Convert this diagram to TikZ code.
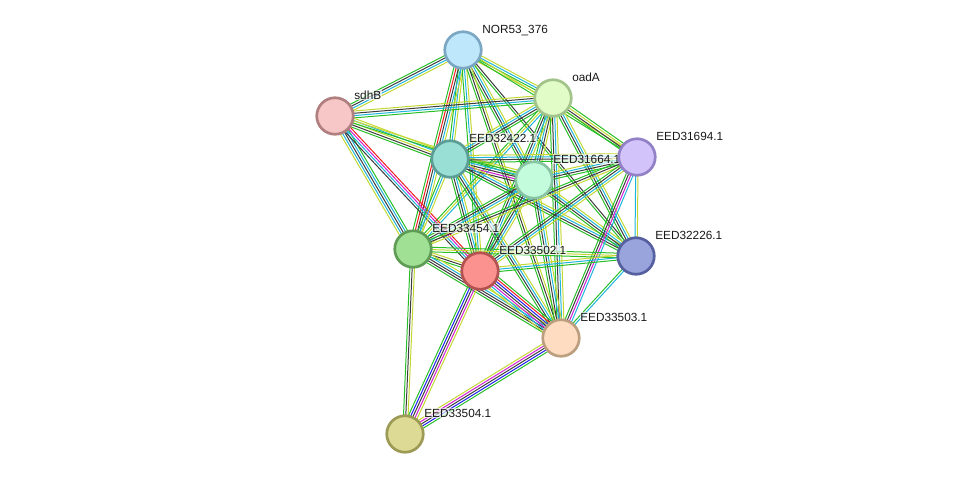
\documentclass[tikz,border=0pt]{standalone}
\usepackage{fontspec}
\setmainfont{Liberation Sans}
\usetikzlibrary{calc}
\pgfdeclarelayer{edges}
\pgfdeclarelayer{labels}
\pgfsetlayers{edges,labels,main}
\definecolor{grn}{RGB}{40,190,40}
\definecolor{ylw}{RGB}{195,215,50}
\definecolor{blk}{RGB}{60,60,60}
\definecolor{cyn}{RGB}{30,180,220}
\definecolor{mag}{RGB}{210,30,210}
\definecolor{rd}{RGB}{240,30,30}
\definecolor{blu}{RGB}{30,30,240}
\definecolor{fN}{HTML}{BFE7FB}\definecolor{bN}{HTML}{7BA7C3}
\definecolor{fO}{HTML}{E1FCC7}\definecolor{bO}{HTML}{A2C48A}
\definecolor{fS}{HTML}{F7C7C8}\definecolor{bS}{HTML}{B07F80}
\definecolor{fA}{HTML}{9ADFD5}\definecolor{bA}{HTML}{5C9E96}
\definecolor{fB}{HTML}{C2FCDD}\definecolor{bB}{HTML}{86C4A2}
\definecolor{fC}{HTML}{D2C3FB}\definecolor{bC}{HTML}{9281C6}
\definecolor{fD}{HTML}{9FE094}\definecolor{bD}{HTML}{5F9C56}
\definecolor{fE}{HTML}{FC9290}\definecolor{bE}{HTML}{B45252}
\definecolor{fF}{HTML}{99A3DC}\definecolor{bF}{HTML}{56609F}
\definecolor{fG}{HTML}{FEDCC1}\definecolor{bG}{HTML}{BC9F7F}
\definecolor{fH}{HTML}{DCDA95}\definecolor{bH}{HTML}{9D9A55}
\newcommand\strEdge[3]{%
  \gdef\ecount{0}%
  \foreach \c in {#3}{\pgfmathtruncatemacro\tmp{\ecount+1}\global\let\ecount\tmp}%
  \foreach \c [count=\i] in {#3}{%
    \pgfmathsetmacro\off{(\i-1-(\ecount-1)/2)*2.3}%
    \draw[\c] ($(#1)!\off pt!90:(#2)$) -- ($(#2)!\off pt!-90:(#1)$);
  }%
}
\newcommand\prot[3]{%
  \node[prot, fill=f#1, draw=b#1] (#1) at (#2) {};
  \begin{pgfonlayer}{labels}
    \node[lbl] (l#1) at ($(#2)+(18,-17)$) {#3};
  \end{pgfonlayer}
}
\tikzset{
  prot/.style={circle, minimum size=36.5pt, inner sep=0pt, line width=2.7pt},
  lbl/.style={anchor=base west, inner sep=0.8pt, fill=white, fill opacity=0.65, text opacity=1,
    text=black!90, font=\fontsize{11.8}{14}\selectfont},
  every path/.style={line width=1pt}
}
\begin{document}
\begin{tikzpicture}[x=1pt, y=-1pt]
\useasboundingbox (0,0) rectangle (976,480);
\prot{N}{463,50}{NOR53\_376}
\prot{O}{553,98}{oadA}
\prot{S}{335,116}{sdhB}
\prot{A}{450,159}{EED32422.1}
\prot{B}{534,180}{EED31664.1}
\prot{C}{637,157}{EED31694.1}
\prot{D}{413,249}{EED33454.1}
\prot{E}{480,271}{EED33502.1}
\prot{F}{636,256}{EED32226.1}
\prot{G}{561,338}{EED33503.1}
\prot{H}{405,434}{EED33504.1}
\begin{pgfonlayer}{edges}
\strEdge{N}{S}{grn,blk,cyn,ylw}
\strEdge{N}{O}{ylw,grn,cyn,ylw}
\strEdge{N}{A}{grn,cyn,ylw}
\strEdge{N}{D}{grn,rd,blk,cyn,ylw}
\strEdge{N}{E}{grn,cyn,ylw}
\strEdge{N}{B}{grn,blk,cyn,ylw}
\strEdge{N}{C}{grn,ylw}
\strEdge{N}{F}{grn,blk}
\strEdge{N}{G}{grn,blk,ylw}
\strEdge{O}{S}{ylw,blk,cyn,grn}
\strEdge{O}{A}{ylw,cyn,blk,grn}
\strEdge{O}{B}{grn,cyn,blk,ylw}
\strEdge{O}{C}{grn,blk,ylw,grn}
\strEdge{O}{D}{grn,ylw,cyn}
\strEdge{O}{E}{grn,blk,cyn,ylw}
\strEdge{O}{F}{grn,blk,cyn,ylw}
\strEdge{O}{G}{grn,blk,cyn,ylw}
\strEdge{S}{A}{grn,blk,ylw,cyn,ylw}
\strEdge{S}{B}{grn,ylw}
\strEdge{S}{D}{ylw,cyn,blk,cyn,grn}
\strEdge{S}{E}{blk,cyn,mag,rd}
\strEdge{A}{B}{blk,mag,blk,cyn,grn,ylw}
\strEdge{A}{C}{grn,blk,cyn,ylw}
\strEdge{A}{D}{grn,cyn,ylw}
\strEdge{A}{E}{grn,blk,cyn,ylw}
\strEdge{A}{F}{grn,blk,cyn,ylw}
\strEdge{A}{G}{grn,blk,cyn,ylw}
\strEdge{B}{C}{grn,blk,cyn,ylw}
\strEdge{B}{D}{grn,blk,cyn,ylw}
\strEdge{B}{E}{grn,blk,cyn,ylw}
\strEdge{B}{F}{grn,blk,cyn,ylw}
\strEdge{B}{G}{grn,blk,cyn,ylw}
\strEdge{C}{D}{grn,blk,ylw}
\strEdge{C}{E}{grn,blk,cyn,ylw}
\strEdge{C}{F}{cyn,ylw}
\strEdge{C}{G}{grn,blk,mag,cyn}
\strEdge{D}{E}{grn,blk,ylw}
\strEdge{D}{F}{grn,ylw,grn}
\strEdge{D}{G}{grn,blk,blk,cyn,ylw}
\strEdge{D}{H}{grn,blk,ylw}
\strEdge{E}{F}{grn,cyn,ylw}
\strEdge{E}{G}{ylw,cyn,mag,blk,blu,rd,grn}
\strEdge{E}{H}{grn,blu,blk,mag,ylw}
\strEdge{F}{G}{grn,cyn}
\strEdge{G}{H}{ylw,mag,blk,blu,grn}
\end{pgfonlayer}
\end{tikzpicture}
\end{document}
